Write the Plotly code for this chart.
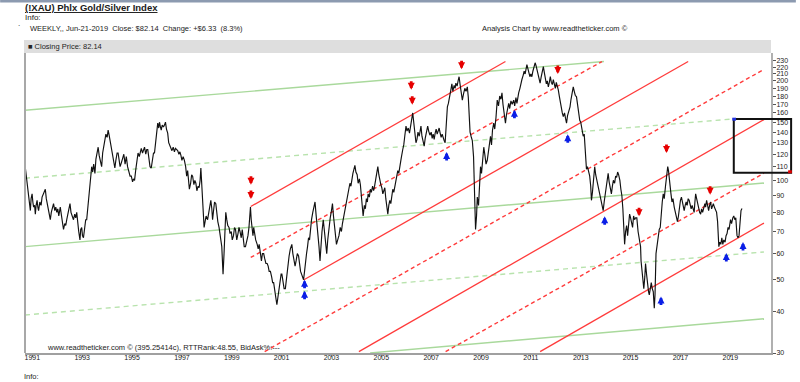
import numpy as np
import plotly.graph_objects as go

# ---------------- data ----------------
weeks = [
1990.72,1990.76,1990.79,1990.83,1990.85,1990.88,1990.92,1990.95,1990.99,1991.02,1991.05,1991.09,1991.12,1991.15,1991.19,1991.22,1991.25,1991.30,1991.35,1991.39,
1991.45,1991.52,1991.56,1991.60,1991.65,1991.68,1991.72,1991.76,1991.80,1991.85,1991.90,1991.94,1991.98,1992.02,1992.06,1992.12,1992.16,1992.20,1992.25,1992.30,
1992.34,1992.38,1992.43,1992.47,1992.51,1992.55,1992.60,1992.65,1992.70,1992.74,1992.78,1992.82,1992.86,1992.91,1992.94,1992.98,1993.01,1993.05,1993.10,1993.14,
1993.18,1993.23,1993.27,1993.31,1993.35,1993.38,1993.42,1993.46,1993.51,1993.55,1993.60,1993.64,1993.68,1993.72,1993.78,1993.82,1993.87,1993.91,1993.95,1994.00,
1994.04,1994.08,1994.12,1994.17,1994.21,1994.26,1994.31,1994.35,1994.40,1994.44,1994.48,1994.52,1994.57,1994.62,1994.67,1994.72,1994.77,1994.82,1994.87,1994.92,
1994.97,1995.02,1995.06,1995.10,1995.15,1995.20,1995.24,1995.29,1995.33,1995.37,1995.42,1995.46,1995.50,1995.55,1995.59,1995.63,1995.68,1995.72,1995.77,1995.82,
1995.86,1995.90,1995.95,1996.00,1996.03,1996.07,1996.10,1996.13,1996.17,1996.21,1996.26,1996.30,1996.34,1996.38,1996.43,1996.47,1996.52,1996.56,1996.60,1996.65,
1996.70,1996.74,1996.78,1996.83,1996.88,1996.92,1996.96,1997.00,1997.05,1997.10,1997.15,1997.19,1997.23,1997.27,1997.30,1997.35,1997.39,1997.43,1997.48,1997.52,
1997.56,1997.60,1997.65,1997.69,1997.73,1997.76,1997.79,1997.83,1997.86,1997.89,1997.93,1997.97,1998.03,1998.07,1998.12,1998.16,1998.20,1998.23,1998.27,1998.31,
1998.36,1998.40,1998.44,1998.49,1998.53,1998.57,1998.60,1998.63,1998.65,1998.69,1998.73,1998.76,1998.80,1998.84,1998.89,1998.93,1998.98,1999.02,1999.07,1999.11,
1999.15,1999.20,1999.25,1999.29,1999.33,1999.38,1999.42,1999.46,1999.50,1999.55,1999.60,1999.65,1999.69,1999.73,1999.75,1999.78,1999.82,1999.85,1999.88,1999.92,
1999.96,2000.02,2000.06,2000.10,2000.15,2000.19,2000.23,2000.28,2000.32,2000.37,2000.42,2000.46,2000.50,2000.55,2000.60,2000.64,2000.68,2000.72,2000.77,2000.81,
2000.85,2000.90,2000.94,2000.98,2001.01,2001.05,2001.10,2001.15,2001.20,2001.25,2001.30,2001.35,2001.41,2001.45,2001.50,2001.54,2001.58,2001.63,2001.68,2001.72,
2001.76,2001.80,2001.84,2001.88,2001.92,2001.96,2002.00,2002.04,2002.08,2002.12,2002.16,2002.20,2002.25,2002.30,2002.34,2002.38,2002.42,2002.46,2002.50,2002.54,
2002.58,2002.62,2002.67,2002.71,2002.75,2002.81,2002.85,2002.90,2002.95,2003.00,2003.04,2003.08,2003.13,2003.17,2003.20,2003.25,2003.30,2003.35,2003.40,2003.44,
2003.47,2003.52,2003.57,2003.62,2003.67,2003.71,2003.74,2003.78,2003.82,2003.86,2003.90,2003.94,2003.98,2004.03,2004.07,2004.12,2004.16,2004.20,2004.24,2004.27,
2004.32,2004.36,2004.40,2004.44,2004.47,2004.52,2004.56,2004.60,2004.65,2004.69,2004.73,2004.78,2004.82,2004.86,2004.90,2004.94,2004.98,2005.02,2005.06,2005.10,
2005.14,2005.18,2005.22,2005.26,2005.30,2005.34,2005.38,2005.42,2005.46,2005.50,2005.55,2005.60,2005.66,2005.70,2005.75,2005.80,2005.86,2005.90,2005.94,2005.99,
2006.03,2006.08,2006.13,2006.18,2006.22,2006.26,2006.30,2006.35,2006.39,2006.43,2006.47,2006.52,2006.56,2006.59,2006.63,2006.68,2006.72,2006.76,2006.80,2006.86,
2006.90,2006.95,2007.00,2007.04,2007.08,2007.12,2007.16,2007.20,2007.24,2007.28,2007.32,2007.36,2007.40,2007.44,2007.48,2007.52,2007.56,2007.60,2007.65,2007.69,
2007.73,2007.79,2007.83,2007.87,2007.92,2007.96,2007.99,2008.04,2008.08,2008.12,2008.16,2008.20,2008.25,2008.30,2008.35,2008.40,2008.45,2008.49,2008.52,2008.56,
2008.60,2008.65,2008.70,2008.74,2008.78,2008.82,2008.85,2008.90,2008.94,2008.98,2009.02,2009.06,2009.11,2009.15,2009.20,2009.25,2009.29,2009.33,2009.38,2009.42,
2009.46,2009.51,2009.55,2009.60,2009.65,2009.70,2009.75,2009.80,2009.84,2009.88,2009.92,2009.98,2010.02,2010.06,2010.11,2010.15,2010.20,2010.25,2010.31,2010.35,
2010.40,2010.44,2010.48,2010.51,2010.56,2010.60,2010.64,2010.69,2010.73,2010.77,2010.81,2010.84,2010.88,2010.92,2010.96,2011.00,2011.04,2011.08,2011.12,2011.17,
2011.21,2011.25,2011.30,2011.34,2011.37,2011.41,2011.46,2011.50,2011.54,2011.58,2011.62,2011.66,2011.70,2011.74,2011.78,2011.82,2011.86,2011.90,2011.94,2011.98,
2012.02,2012.06,2012.10,2012.14,2012.18,2012.22,2012.26,2012.30,2012.35,2012.39,2012.43,2012.47,2012.52,2012.57,2012.61,2012.66,2012.70,2012.74,2012.78,2012.83,
2012.87,2012.91,2012.96,2013.00,2013.05,2013.10,2013.14,2013.18,2013.23,2013.27,2013.31,2013.36,2013.40,2013.43,2013.47,2013.52,2013.56,2013.60,2013.65,2013.70,
2013.75,2013.80,2013.85,2013.90,2013.94,2013.98,2014.02,2014.06,2014.10,2014.14,2014.18,2014.23,2014.27,2014.31,2014.36,2014.40,2014.44,2014.48,2014.52,2014.57,
2014.61,2014.65,2014.69,2014.73,2014.76,2014.80,2014.84,2014.88,2014.92,2014.96,2015.00,2015.04,2015.08,2015.12,2015.16,2015.20,2015.25,2015.30,2015.36,2015.40,
2015.42,2015.46,2015.49,2015.53,2015.57,2015.60,2015.64,2015.68,2015.72,2015.75,2015.79,2015.83,2015.87,2015.91,2015.95,2015.98,2016.02,2016.06,2016.10,2016.15,
2016.19,2016.23,2016.27,2016.31,2016.35,2016.40,2016.45,2016.49,2016.52,2016.55,2016.59,2016.62,2016.66,2016.70,2016.75,2016.79,2016.84,2016.88,2016.92,2016.96,
2017.00,2017.04,2017.08,2017.12,2017.15,2017.19,2017.23,2017.27,2017.31,2017.35,2017.39,2017.43,2017.47,2017.51,2017.55,2017.58,2017.61,2017.65,2017.69,2017.73,
2017.77,2017.81,2017.85,2017.89,2017.94,2017.98,2018.01,2018.05,2018.09,2018.13,2018.17,2018.21,2018.25,2018.28,2018.32,2018.36,2018.41,2018.45,2018.49,2018.52,
2018.54,2018.58,2018.62,2018.66,2018.70,2018.74,2018.79,2018.83,2018.87,2018.91,2018.95,2019.01,2019.05,2019.10,2019.14,2019.18,2019.22,2019.27,2019.31,2019.35,
2019.39,2019.43,2019.47,
]
closes = [
109,102,96,90,89,84,81,88,91,86,83,84,79,84,87,83,81,86,84,89,
92,94,88,85,81,78,76,80,83,85,81,83,80,82,78,83,79,74,71,74,
73,76,80,83,85,80,78,76,79,77,80,74,70,66,71,72,68,67,72,76,
76,85,92,96,104,110,106,112,105,116,122,126,119,115,110,121,128,133,138,135,
142,137,132,126,120,114,109,115,121,121,116,110,113,118,120,112,118,110,106,103,
103,99,101,100,108,115,121,118,122,125,121,125,126,120,124,124,116,110,109,115,
121,121,134,142,149,144,150,146,142,147,145,147,150,143,139,130,127,126,123,126,
122,125,124,123,120,122,119,115,118,115,110,103,107,100,94,98,104,103,97,100,
98,93,96,95,100,109,100,88,80,72,75,78,76,80,84,87,82,76,81,86,
85,79,75,72,69,65,63,56,52,60,72,80,76,73,72,69,70,66,68,72,
71,66,69,72,70,67,71,66,63,63,65,68,72,80,83,76,71,68,72,69,
66,64,62,64,59,57,60,60,58,56,56,55,53,53,51,49,49,46,44,42,
44,47,50,52,52,49,47,47,51,55,59,62,64,60,56,55,57,60,59,55,
53,52,51,50,53,58,60,63,67,66,72,76,80,84,86,79,74,70,63,57,
64,70,76,70,65,60,66,72,77,81,85,78,72,68,64,66,68,72,70,74,
76,80,83,88,92,95,98,96,102,105,108,111,106,104,98,101,97,90,84,78,
84,82,88,86,91,89,94,92,96,93,96,102,106,110,104,99,97,95,91,93,
95,88,84,79,84,87,85,90,94,92,96,100,107,105,112,117,124,128,136,146,
141,144,139,148,155,160,150,138,130,133,140,136,142,146,136,131,127,134,140,146,
141,137,140,134,138,133,139,143,138,141,144,139,135,138,134,132,130,145,167,171,
180,188,196,186,194,190,197,193,200,206,195,188,175,183,190,186,192,178,150,140,
136,132,118,95,71,78,89,84,100,110,105,118,126,120,112,115,123,130,136,128,
142,149,143,155,175,168,180,176,184,170,160,149,158,164,171,165,174,170,175,168,
178,171,180,184,190,197,202,208,214,210,219,224,218,212,206,210,206,214,220,227,
222,216,209,203,197,205,214,221,212,203,196,200,192,198,206,198,195,202,194,190,
198,194,188,180,172,166,160,156,160,154,149,157,162,167,176,186,192,186,181,179,
170,162,152,150,144,136,138,124,108,110,106,103,96,87,92,100,110,104,100,94,
92,88,84,81,86,90,96,101,105,99,95,91,96,100,98,103,102,106,104,100,
94,90,82,72,64,70,73,68,72,79,77,75,72,78,76,77,77,70,66,63,
57,53,49,47,51,56,52,48,46,45,48,49,47,46,41,45,60,63,67,71,
72,80,86,91,88,96,104,110,107,100,96,91,86,88,83,80,77,75,78,84,
87,89,85,82,81,84,86,84,88,87,84,82,84,81,80,86,91,88,85,83,
80,79,82,80,83,85,83,87,84,81,84,86,82,83,85,83,81,80,75,68,
63,65,64,67,64,66,65,68,69,72,71,76,74,77,78,76,77,68,67,68,
76,81,82.14,
]

# channel / trend lines: [start, end] pairs
green_solid_years = [[1990.705, 2013.93], [1990.705, 2020.35], [2004.55, 2020.35]]
green_solid_values = [[163.0, 229.0], [63.0, 98.2], [30.0, 38.1]]
green_dash_years = [[1990.705, 2019.12], [1990.705, 2020.35]]
green_dash_values = [[101.5, 153.5], [39.1, 60.7]]
red_solid_years = [[1999.76, 2009.98], [2001.88, 2017.31], [2004.10, 2020.35], [2011.37, 2020.35]]
red_solid_values = [[83.3, 229.0], [49.9, 229.0], [30.3, 152.7], [30.3, 74.2]]
red_dash_years = [[1999.76, 2013.85], [2000.32, 2020.31], [2007.58, 2020.35]]
red_dash_values = [[58.4, 229.0], [30.3, 216.0], [30.3, 105.1]]

# signal arrows (tip positions)
down_arrow_years = [1999.77, 1999.77, 2006.20, 2006.24, 2008.22, 2012.08, 2015.34, 2016.44, 2018.19]
down_arrow_values = [97.0, 87.8, 188.0, 169.5, 217.0, 210.0, 77.8, 121.0, 90.5]
up_arrow_years = [2001.92, 2001.92, 2007.62, 2010.34, 2012.48, 2013.96, 2016.22, 2018.84, 2019.51]
up_arrow_values = [50.0, 46.3, 121.9, 163.7, 138.0, 77.8, 44.5, 60.2, 65.0]

# projection box
box_years = [2019.14, 2021.44]
box_values = [153.5, 105.5]

x_tick_years = list(range(1991, 2020, 2))
y_tick_values = list(range(30, 240, 10))

# ---------------- layout helpers ----------------
W, H = 800, 382
ML, MR, MT, MB = 25, 25, 53, 29
PW, PH = W - ML - MR, H - MT - MB
X0, X1 = 1990.705, 2020.633
Y0 = np.log10(30)
Y1 = Y0 + PH / 330.2


def pxp(xpix):
    return (xpix - ML) / PW


def pyp(ypix):
    return (MT + PH - ypix) / PH


def dxp(year):
    return (year - X0) / (X1 - X0)


def dyp(val):
    return (np.log10(val) - Y0) / (Y1 - Y0)


FONT = "Liberation Sans, Arial, sans-serif"
RED = "#ff3b3b"
GREEN = "#a9d99c"
GREEN_D = "#b8e3ad"

fig = go.Figure()

for xs, ys in zip(green_solid_years, green_solid_values):
    fig.add_trace(go.Scatter(x=xs, y=ys, mode="lines", line=dict(color=GREEN, width=1.4),
                             hoverinfo="skip", showlegend=False))
for xs, ys in zip(green_dash_years, green_dash_values):
    fig.add_trace(go.Scatter(x=xs, y=ys, mode="lines", line=dict(color=GREEN_D, width=1.4, dash="5px,4px"),
                             hoverinfo="skip", showlegend=False))
for xs, ys in zip(red_solid_years, red_solid_values):
    fig.add_trace(go.Scatter(x=xs, y=ys, mode="lines", line=dict(color=RED, width=1.3),
                             hoverinfo="skip", showlegend=False))
for xs, ys in zip(red_dash_years, red_dash_values):
    fig.add_trace(go.Scatter(x=xs, y=ys, mode="lines", line=dict(color=RED, width=1.4, dash="4px,3px"),
                             hoverinfo="skip", showlegend=False))

fig.add_trace(go.Scatter(x=weeks, y=closes, mode="lines", line=dict(color="#111111", width=1.15),
                         name="Closing Price", showlegend=False))

annotations = []
for yr, v in zip(down_arrow_years, down_arrow_values):
    annotations.append(dict(x=yr, y=np.log10(v), xref="x", yref="y", ax=0, ay=-10, text="",
                            showarrow=True, arrowhead=2, arrowsize=0.5, arrowwidth=2.8, arrowcolor="#e60000"))
for yr, v in zip(up_arrow_years, up_arrow_values):
    annotations.append(dict(x=yr, y=np.log10(v), xref="x", yref="y", ax=0, ay=10, text="",
                            showarrow=True, arrowhead=2, arrowsize=0.5, arrowwidth=2.8, arrowcolor="#0a1ee6"))


def txt(s, xpix, ypix, size=8, color="#222"):
    return dict(text=s, x=pxp(xpix), y=pyp(ypix), xref="paper", yref="paper", xanchor="left",
                yanchor="middle", showarrow=False, font=dict(family=FONT, size=size, color=color))


annotations += [
    txt("<b><u>(!XAU) Phlx Gold/Silver Index</u></b>", 23, 7, size=9.5, color="#1a1a1a"),
    txt("Info:", 23, 18, size=8),
    txt(".", 16, 24, size=8),
    txt("WEEKLY,, Jun-21-2019  Close: $82.14  Change: +$6.33  (8.3%)", 28, 29, size=7.5),
    txt("Analysis Chart by www.readtheticker.com \u00a9", 482, 29, size=7.5),
    txt("\u25a0 Closing Price: 82.14", 26, 47, size=7.5),
    txt("www.readtheticker.com \u00a9 (395.25414c), RTTRank:48.55, BidAsk%:---", 45, 347.5, size=7.5),
    txt("Info:", 22, 376, size=7.5),
]

shapes = [
    dict(type="rect", xref="paper", yref="paper", x0=pxp(0), x1=pxp(800), y0=pyp(2.5), y1=pyp(0),
         fillcolor="#8c9ab0", line=dict(width=0), layer="above"),
    dict(type="rect", xref="paper", yref="paper", x0=pxp(24), x1=pxp(775), y0=pyp(53), y1=pyp(40),
         fillcolor="#dedede", line=dict(width=0), layer="below"),
    dict(type="line", xref="paper", yref="paper", x0=pxp(25), x1=pxp(25), y0=0, y1=1,
         line=dict(color="#a8a8a8", width=2), layer="above"),
    dict(type="rect", xref="paper", yref="paper", x0=dxp(box_years[0]), x1=dxp(box_years[1]),
         y0=dyp(box_values[1]), y1=dyp(box_values[0]), line=dict(color="#111", width=2),
         fillcolor="rgba(0,0,0,0)", layer="above"),
    dict(type="rect", xref="paper", yref="paper", x0=dxp(box_years[0]) - 0.002, x1=dxp(box_years[0]) + 0.003,
         y0=dyp(box_values[0]) - 0.006, y1=dyp(box_values[0]) + 0.004, fillcolor="#2030e0",
         line=dict(width=0), layer="above"),
    dict(type="rect", xref="paper", yref="paper", x0=dxp(box_years[1]) - 0.004, x1=dxp(box_years[1]) + 0.001,
         y0=dyp(box_values[1]) - 0.002, y1=dyp(box_values[1]) + 0.008, fillcolor="#e00000",
         line=dict(width=0), layer="above"),
]

fig.update_layout(
    width=W, height=H,
    margin=dict(l=ML, r=MR, t=MT, b=MB, pad=0),
    paper_bgcolor="white", plot_bgcolor="white",
    showlegend=False,
    annotations=annotations,
    shapes=shapes,
    font=dict(family=FONT, size=8, color="#222"),
)
fig.update_xaxes(range=[X0, X1], tickvals=x_tick_years, ticktext=[str(y) for y in x_tick_years],
                 showgrid=False, zeroline=False, showline=True, linecolor="#a0a0a0", linewidth=2,
                 ticks="outside", ticklen=2, tickcolor="#777", ticklabelstandoff=-5,
                 tickfont=dict(family=FONT, size=7, color="#222"))
fig.update_yaxes(type="log", range=[Y0, Y1], side="right", tickvals=y_tick_values,
                 ticktext=[str(v) for v in y_tick_values], showgrid=False, zeroline=False,
                 showline=True, linecolor="#b0b0b0", linewidth=2, ticks="outside", ticklen=3,
                 tickcolor="#555", ticklabelstandoff=-1, tickfont=dict(family=FONT, size=7, color="#222"))

fig.write_html("out.html", config={"displayModeBar": False},
               post_script="document.body.style.margin='0';document.body.style.overflow='hidden';")
